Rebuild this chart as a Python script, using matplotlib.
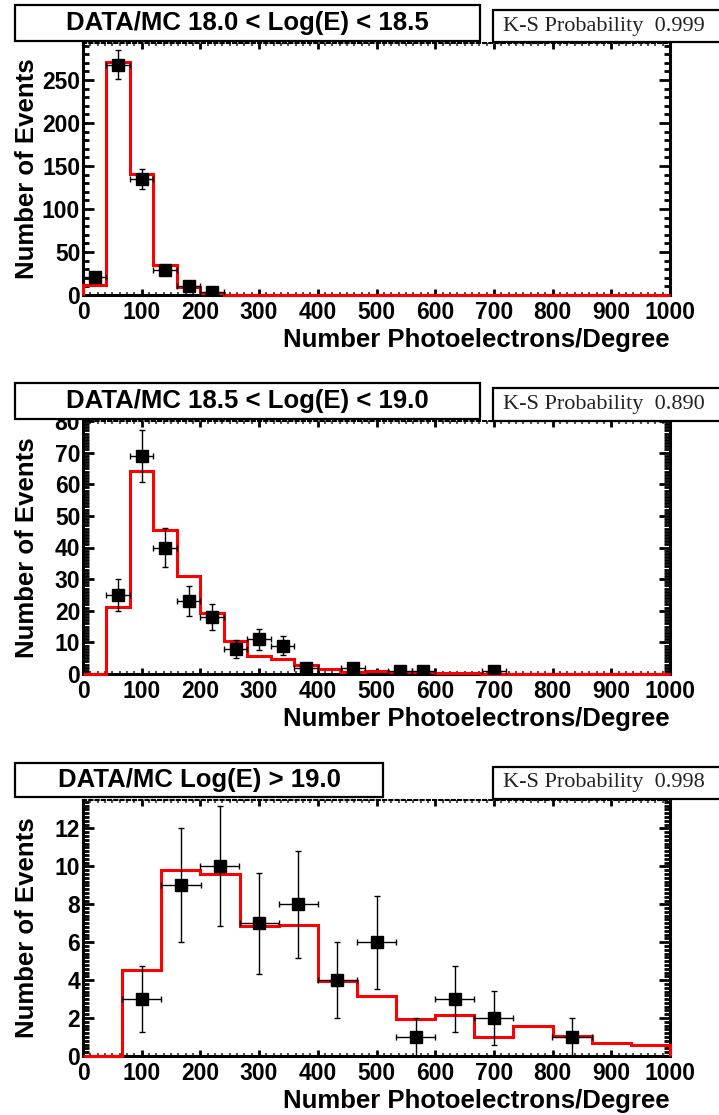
import numpy as np
import matplotlib
matplotlib.use('Agg')
import matplotlib.pyplot as plt
from matplotlib.patches import Rectangle
from matplotlib.ticker import AutoMinorLocator

# Panel 1: 18.0 < Log(E) < 18.5
p1_title = 'DATA/MC 18.0 < Log(E) < 18.5'
p1_ks = 'K-S Probability  0.999'
p1_data_x = [20, 60, 100, 140, 180, 220]
p1_data_y = [21, 268, 135, 29, 11, 3]
p1_data_yerr = [4.6, 16.4, 11.6, 5.4, 3.3, 1.7]
p1_mc = [12, 271, 141, 35, 9, 2, 0, 0, 0, 0, 0, 0, 0,
         0, 0, 0, 0, 0, 0, 0, 0, 0, 0, 0, 0]
p1_yticks = [0, 50, 100, 150, 200, 250]

# Panel 2: 18.5 < Log(E) < 19.0
p2_title = 'DATA/MC 18.5 < Log(E) < 19.0'
p2_ks = 'K-S Probability  0.890'
p2_data_x = [60, 100, 140, 180, 220, 260, 300, 340, 380, 460, 540, 580, 700]
p2_data_y = [25, 69, 40, 23, 18, 8, 11, 9, 2, 2, 1, 1, 1]
p2_data_yerr = [5.0, 8.3, 6.3, 4.8, 4.2, 2.8, 3.3, 3.0, 1.4, 1.4, 1, 1, 1]
p2_mc = [0, 21.3, 64.3, 45.6, 31.1, 19.3, 10.4, 5.8, 4.8, 2.8, 1.5, 0.6, 1.0,
         0.5, 0.5, 0.3, 0.2, 0.1, 0.1, 0.1, 0.1, 0.1, 0.05, 0.05, 0.05]
p2_yticks = [0, 10, 20, 30, 40, 50, 60, 70, 80]

# Panel 3: Log(E) > 19.0
p3_title = 'DATA/MC Log(E) > 19.0'
p3_ks = 'K-S Probability  0.998'
p3_data_x = [100, 167, 233, 300, 367, 433, 500, 567, 633, 700, 833]
p3_data_y = [3, 9, 10, 7, 8, 4, 6, 1, 3, 2, 1]
p3_data_yerr = [1.73, 3.0, 3.16, 2.65, 2.83, 2.0, 2.45, 1.0, 1.73, 1.41, 1.0]
p3_mc = [0, 4.55, 9.8, 9.6, 6.85, 6.9, 3.93, 3.17, 1.96, 2.17, 1.02, 1.59,
         1.06, 0.67, 0.58]
p3_yticks = [0, 2, 4, 6, 8, 10, 12]

xticks = [0, 100, 200, 300, 400, 500, 600, 700, 800, 900, 1000]
xlabel = 'Number Photoelectrons/Degree'
ylabel = 'Number of Events'

W, H = 719, 1115
fig = plt.figure(figsize=(W / 100, H / 100), dpi=100)

SANS = ['Liberation Sans', 'DejaVu Sans']
SERIF = ['Liberation Serif', 'DejaVu Serif']


def fig_rect(x0, y0, x1, y1):
    """ Pixel box (top-left origin) to figure fraction rect. """
    return [x0 / W, 1 - y1 / H, (x1 - x0) / W, (y1 - y0) / H]


def draw_panel(top, bottom, title, title_box, ks, ks_box,
               data_x, data_y, data_yerr, data_xerr, mc, edges,
               ymax, yticks, yminor):
    ax = fig.add_axes(fig_rect(83, top, 670, bottom))
    ax.set_xlim(0, 1000)
    ax.set_ylim(0, ymax)

    # MC histogram.
    ax.stairs(mc, edges, color='#ff0000', lw=2.2, zorder=3, clip_on=False)

    # Data points.
    ax.errorbar(data_x, data_y, xerr=data_xerr, yerr=data_yerr, fmt='s',
                color='black', ms=8.5, elinewidth=1, capsize=2, capthick=1,
                zorder=4)

    # ROOT style axes.
    for side in ['left', 'bottom', 'right']:
        ax.spines[side].set_linewidth(2.2)
    ax.spines['top'].set_linewidth(1.5)
    ax.spines['top'].set_linestyle((0, (1.5, 1.5)))

    ax.set_xticks(xticks)
    ax.set_yticks(yticks)
    ax.xaxis.set_minor_locator(AutoMinorLocator(8))
    ax.yaxis.set_minor_locator(AutoMinorLocator(yminor))
    ax.tick_params(axis='y', which='major', direction='in', length=8,
                   width=2, left=True, right=True, pad=2)
    ax.tick_params(axis='y', which='minor', direction='in', length=4,
                   width=2, left=True, right=True)
    ax.tick_params(axis='x', which='major', direction='in', length=4,
                   width=2, bottom=True, top=True, pad=4)
    ax.tick_params(axis='x', which='minor', direction='in', length=2,
                   width=1.5, bottom=True, top=True, color='#555555')
    for lab in ax.get_xticklabels() + ax.get_yticklabels():
        lab.set_family(SANS)
        lab.set_fontweight('bold')
        lab.set_fontsize(16.5)

    # Axis titles.
    fig.text(670 / W, 1 - (bottom + 45) / H, xlabel, ha='right', va='center',
             family=SANS, fontweight='bold', fontsize=18.5)
    fig.text(27 / W, 1 - (top + bottom) / 2 / H, ylabel, rotation=90,
             ha='center', va='center', family=SANS, fontweight='bold',
             fontsize=18.5)

    # Title box.
    x0, y0, x1, y1 = title_box
    fig.patches.append(Rectangle((x0 / W, 1 - y1 / H), (x1 - x0) / W,
                                 (y1 - y0) / H, transform=fig.transFigure,
                                 facecolor='white', edgecolor='black',
                                 lw=1.6, zorder=5))
    fig.text((x0 + x1) / 2 / W, 1 - (y0 + y1) / 2 / H, title, ha='center',
             va='center', family=SANS, fontweight='bold', fontsize=18.5,
             zorder=6)

    # K-S probability box.
    x0, y0, x1, y1 = ks_box
    fig.patches.append(Rectangle((x0 / W, 1 - y1 / H), (x1 - x0) / W,
                                 (y1 - y0) / H, transform=fig.transFigure,
                                 facecolor='white', edgecolor='black',
                                 lw=1.6, zorder=5))
    fig.text((x0 + 10) / W, 1 - (y0 + y1) / 2 / H, ks, ha='left',
             va='center', family=SERIF, fontsize=16, color='#222222',
             zorder=6)
    return ax


edges_40 = np.arange(0, 1001, 40)
edges_15 = np.linspace(0, 1000, 16)

draw_panel(43, 295, p1_title, (15, 5, 480, 41), p1_ks, (493, 10, 730, 42),
           p1_data_x, p1_data_y, p1_data_yerr, 20, p1_mc, edges_40,
           293, p1_yticks, 5)
draw_panel(421, 674, p2_title, (15, 383, 480, 419), p2_ks,
           (493, 388, 730, 421),
           p2_data_x, p2_data_y, p2_data_yerr, 20, p2_mc, edges_40,
           80, p2_yticks, 10)
draw_panel(800, 1056, p3_title, (15, 763, 383, 797), p3_ks,
           (493, 767, 730, 799),
           p3_data_x, p3_data_y, p3_data_yerr, 33.3, p3_mc, edges_15,
           13.5, p3_yticks, 10)

fig.savefig('out.png', dpi=100, facecolor='white')
